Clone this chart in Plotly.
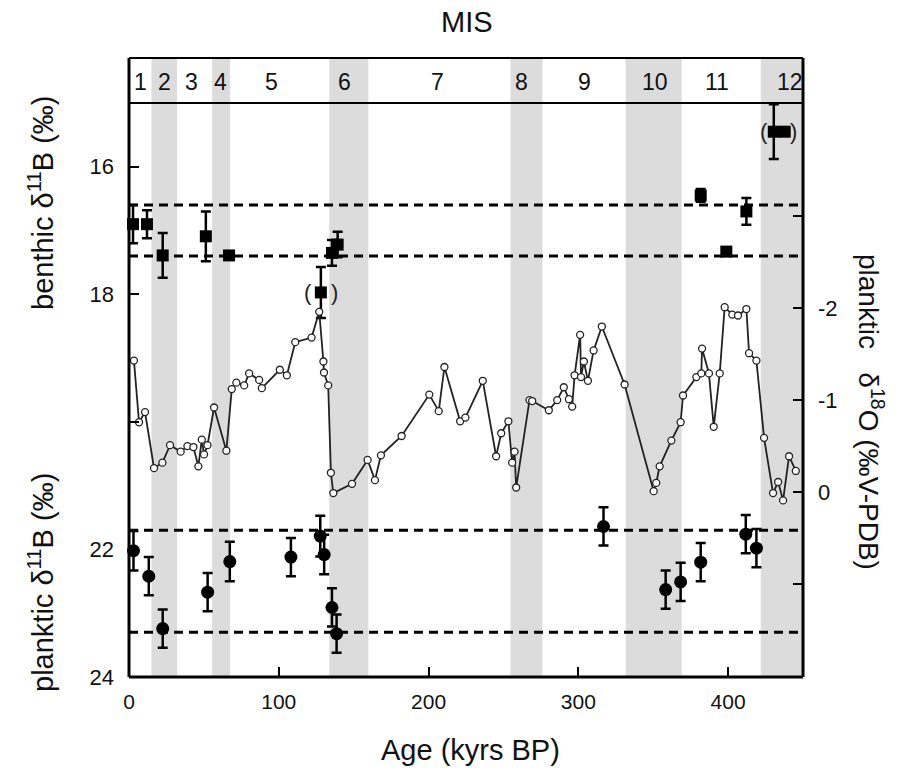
import plotly.graph_objects as go

# ---------------- data ----------------
# planktic d18O (right axis)
d18o_age = [3.3, 6.7, 10.7, 16.7, 22.3, 27.4, 34.5, 39.0, 43.0, 46.3, 48.6, 50.1, 52.4, 56.8, 65.0,
            68.6, 71.7, 76.9, 80.2, 86.9, 88.7, 100.7, 105.4, 111.0, 121.9, 127.0, 129.8, 130.2, 133.0,
            134.8, 136.4, 148.9, 159.3, 164.2, 168.2, 182.0, 200.5, 206.8, 210.6, 221.1, 224.6, 236.2,
            245.1, 248.5, 253.3, 255.8, 257.4, 258.5, 267.4, 269.2, 280.3, 285.9, 290.3, 293.7, 295.9,
            297.5, 301.2, 301.8, 303.7, 306.4, 310.2, 315.7, 330.9, 350.3, 352.0, 354.3, 362.1, 368.3,
            369.9, 378.8, 382.1, 382.6, 387.2, 390.4, 394.4, 397.7, 402.8, 406.6, 412.2, 414.0, 418.9,
            424.0, 430.0, 433.4, 436.7, 440.7, 445.2]
d18o_val = [-1.43, -0.76, -0.87, -0.26, -0.32, -0.51, -0.44, -0.50, -0.49, -0.28, -0.57, -0.41, -0.51,
            -0.92, -0.45, -1.12, -1.19, -1.16, -1.29, -1.22, -1.13, -1.33, -1.27, -1.63, -1.68, -1.96,
            -1.42, -1.30, -1.16, -0.21, 0.01, -0.09, -0.35, -0.13, -0.40, -0.61, -1.06, -0.88, -1.36,
            -0.77, -0.81, -1.21, -0.39, -0.64, -0.77, -0.32, -0.44, -0.05, -1.00, -0.99, -0.89, -1.00,
            -1.14, -1.01, -0.93, -1.27, -1.71, -1.25, -1.42, -1.21, -1.54, -1.80, -1.17, -0.01, -0.10,
            -0.28, -0.56, -0.76, -1.05, -1.25, -1.29, -1.56, -1.29, -0.71, -1.29, -2.01, -1.93, -1.92,
            -1.99, -1.51, -1.43, -0.59, 0.01, -0.11, 0.09, -0.39, -0.23]

# benthic d11B (left axis, upper part)
benthic_age = [2.7, 12.0, 22.5, 51.3, 66.8, 128.1, 135.5, 139.3, 381.7, 398.8, 412.2, 430.5, 437.8]
benthic_val = [16.90, 16.90, 17.39, 17.09, 17.39, 17.97, 17.35, 17.22, 16.45, 17.33, 16.70, 15.45, 15.45]
benthic_err = [0.30, 0.22, 0.35, 0.39, 0.05, 0.40, 0.20, 0.20, 0.10, 0.05, 0.21, 0.43, 0.05]

# planktic d11B (left axis, lower part)
plank_age = [3.0, 13.2, 22.5, 52.5, 67.3, 108.1, 127.7, 130.3, 135.5, 138.6, 316.8, 358.3, 368.3,
             381.7, 411.8, 418.9]
plank_val = [22.02, 22.42, 23.24, 22.67, 22.19, 22.12, 21.79, 22.08, 22.91, 23.32, 21.64, 22.63, 22.51,
             22.20, 21.76, 21.98]
plank_err = [0.31, 0.30, 0.30, 0.30, 0.31, 0.30, 0.32, 0.31, 0.30, 0.30, 0.30, 0.30, 0.30, 0.30, 0.30,
             0.30]

# reference levels (dashed)
benthic_levels = [16.6, 17.4]
plank_levels = [21.7, 23.3]

# glacial MIS bands (even stages) and stage labels
band_start = [15.0, 55.5, 133.7, 254.7, 331.6, 421.8]
band_end = [32.1, 67.5, 159.8, 276.0, 369.0, 450.0]
mis_labels = ["1", "2", "3", "4", "5", "6", "7", "8", "9", "10", "11", "12"]
mis_pos = [7.4, 23.4, 41.4, 60.8, 94.9, 143.7, 205.9, 262.0, 304.0, 351.0, 392.4, 441.0]

# bracketed (questionable) benthic points
bracket_age = [(119.5, 137.5), (424.0, 443.5)]
bracket_val = [17.97, 15.45]

# axis ticks
x_ticks = [0, 100, 200, 300, 400]
left_ticks = [16, 18, 22, 24]
left_minor = [20]
right_ticks = [-2, -1, 0]
right_labels = ["-2", "-1", "0"]
right_minor = [-3, 1]

# ---------------- figure ----------------
FONT = "Liberation Sans, Arial, sans-serif"
W, H = 912, 774
L, R, T, B = 129, 109, 58, 97
plot_h = H - T - B
sep = (677 - 103) / plot_h  # domain fraction of the data region

fig = go.Figure()

fig.add_trace(go.Scatter(
    x=d18o_age, y=d18o_val, yaxis="y2", mode="lines+markers",
    line=dict(color="#222222", width=1.8),
    marker=dict(symbol="circle", size=7, color="white", line=dict(color="#222222", width=1.3)),
    showlegend=False, cliponaxis=False))

fig.add_trace(go.Scatter(
    x=benthic_age, y=benthic_val, mode="markers",
    marker=dict(symbol="square", size=12, color="black"),
    error_y=dict(type="data", array=benthic_err, color="black", thickness=2.5, width=5),
    showlegend=False, cliponaxis=False))

fig.add_trace(go.Scatter(
    x=plank_age, y=plank_val, mode="markers",
    marker=dict(symbol="circle", size=13, color="black"),
    error_y=dict(type="data", array=plank_err, color="black", thickness=2.5, width=5),
    showlegend=False, cliponaxis=False))

shapes = []
for s, e in zip(band_start, band_end):
    shapes.append(dict(type="rect", xref="x", yref="paper", x0=s, x1=e, y0=0, y1=1,
                       fillcolor="#dcdcdc", line=dict(width=0), layer="below"))
for lv in benthic_levels + plank_levels:
    shapes.append(dict(type="line", xref="x", yref="y", x0=0, x1=450, y0=lv, y1=lv,
                       line=dict(color="black", width=3, dash="9px,6px"), layer="below"))
# separator between data and MIS strip
shapes.append(dict(type="line", xref="paper", yref="paper", x0=0, x1=1, y0=sep, y1=sep,
                   line=dict(color="black", width=2)))
# frame
shapes.append(dict(type="line", xref="paper", yref="paper", x0=0, x1=1, y0=1, y1=1,
                   line=dict(color="black", width=2)))
shapes.append(dict(type="line", xref="paper", yref="paper", x0=0, x1=1, y0=0, y1=0,
                   line=dict(color="black", width=3)))
shapes.append(dict(type="line", xref="paper", yref="paper", x0=0, x1=0, y0=0, y1=1,
                   line=dict(color="black", width=3)))
shapes.append(dict(type="line", xref="paper", yref="paper", x0=1, x1=1, y0=0, y1=1,
                   line=dict(color="black", width=3)))

annotations = []
ymis = (677 - 82) / plot_h
for lab, p in zip(mis_labels, mis_pos):
    annotations.append(dict(x=p, y=ymis, xref="x", yref="paper", text=lab, showarrow=False,
                            xanchor="center", yanchor="middle",
                            font=dict(family=FONT, size=23, color="#111")))
for (a0, a1), v in zip(bracket_age, bracket_val):
    for a, t in ((a0, "("), (a1, ")")):
        annotations.append(dict(x=a, y=v, xref="x", yref="y", text=t, showarrow=False,
                                xanchor="center", yanchor="middle",
                                font=dict(family=FONT, size=22, color="#222")))

titles = [
    dict(x=467, y=22, text="MIS", font=dict(family=FONT, size=29, color="#111")),
    dict(x=470, y=750, text="Age (kyrs BP)", font=dict(family=FONT, size=29, color="#111")),
    dict(x=41, y=202, text="benthic δ<sup>11</sup>B (‰)", textangle=-90,
         font=dict(family=FONT, size=29, color="#111")),
    dict(x=41, y=582, text="planktic δ<sup>11</sup>B (‰)", textangle=-90,
         font=dict(family=FONT, size=29, color="#111")),
    dict(x=871, y=412, text="planktic   δ<sup>18</sup>O (‰V-PDB)", textangle=90,
         font=dict(family=FONT, size=28, color="#111")),
]
# convert pixel-positioned titles to paper coordinates
for a in titles:
    a["x"] = (a["x"] - L) / (W - L - R)
    a["y"] = (H - B - a["y"]) / plot_h
    a.update(xref="paper", yref="paper", xanchor="center", yanchor="middle", showarrow=False)
annotations += titles

tick_common = dict(ticks="inside", ticklen=10, tickwidth=2, tickcolor="black", showgrid=False,
                   zeroline=False, showline=False)

fig.update_layout(
    width=W, height=H,
    margin=dict(l=L, r=R, t=T, b=B),
    paper_bgcolor="white", plot_bgcolor="white",
    font=dict(family=FONT, size=21, color="#111"),
    shapes=shapes, annotations=annotations,
    xaxis=dict(range=[0, 450], tickvals=x_ticks, tickfont=dict(family=FONT, size=21),
               ticklabelstandoff=10, **tick_common),
    yaxis=dict(domain=[0, sep], range=[24, 15], tickvals=left_ticks,
               tickfont=dict(family=FONT, size=22), ticklabelstandoff=14,
               minor=dict(tickvals=left_minor, ticks="inside", ticklen=10, tickwidth=2,
                          tickcolor="black", showgrid=False),
               **tick_common),
    yaxis2=dict(domain=[0, sep], overlaying="y", side="right", range=[2.01, -4.23],
                tickvals=right_ticks, ticktext=right_labels,
                tickfont=dict(family=FONT, size=22), ticklabelstandoff=14,
                minor=dict(tickvals=right_minor, ticks="inside", ticklen=10, tickwidth=2,
                           tickcolor="black", showgrid=False),
                **tick_common),
)

fig.write_html("out.html")
